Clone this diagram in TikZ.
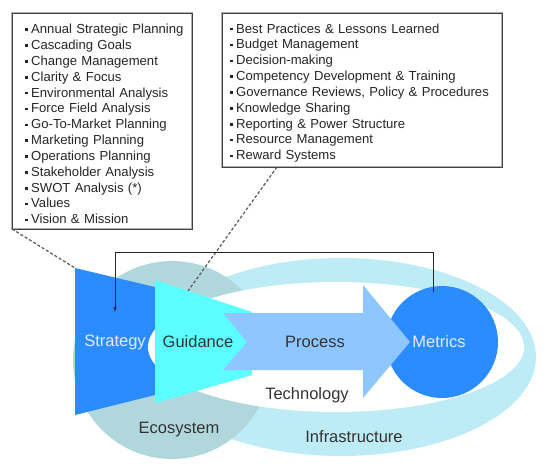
\documentclass[tikz,border=0pt]{standalone}
\usepackage{fontspec}
\setmainfont{Liberation Sans}
\usetikzlibrary{shapes,arrows,calc}
\definecolor{stratblue}{RGB}{43,140,255}
\definecolor{guidecyan}{RGB}{92,255,255}
\definecolor{procblue}{RGB}{142,198,255}
\definecolor{ecogray}{RGB}{176,216,220}
\definecolor{ringcyan}{RGB}{189,236,246}
\definecolor{labeltext}{RGB}{226,236,255}
\newcommand{\bul}{\rule[2.6bp]{2.6bp}{2.6bp}\hspace{3.6bp}}
\newcommand{\lbul}{\hspace*{6bp}\bul}
\newcommand{\topstrut}{\rule{0pt}{15.6bp}}

\begin{document}
\begin{tikzpicture}[x=1bp, y=-1bp, outer sep=0pt, >=latex',
  listbox/.style={draw=gray!60, line width=0.9bp, double=black!75, double distance=0.7bp,
    fill=white, align=left, anchor=north west,
    font=\fontsize{13.1bp}{15.85bp}\selectfont, text=black!85},
  bigtext/.style={font=\fontsize{16.5bp}{19bp}\selectfont, text=black!80},
  lighttext/.style={bigtext, text=labeltext},
  leader/.style={dashed, dash pattern=on 3bp off 2bp, black!65, line width=1.2bp}]

\useasboundingbox (0,0) rectangle (550,467);

\fill[ringcyan] (341,357) ellipse [x radius=195, y radius=99];
\fill[ecogray] (172,360) circle [radius=99];
\fill[stratblue] (75,268) coordinate (STRAT_TL) -- (157,287.5) -- (157,394.5) -- (75,415) -- cycle;
\fill[white] (336,347) ellipse [x radius=188, y radius=65];
\fill[guidecyan] (155,280) -- (252,312) -- (252,375) -- (155,403) -- cycle;
\node[circle, fill=stratblue, minimum size=112bp, inner sep=0pt, lighttext] at (442,342) (METRICS) {\hspace{-6bp}Metrics};
\fill[procblue] (223,313) -- (363,313) -- (363,285) -- (410,342) -- (363,398)
    -- (363,370) -- (223,370) -- (247,342) -- cycle;

\node[lighttext] at (115,342) (STRATEGY) {Strategy};
\node[bigtext] at (198,342) (GUIDANCE) {Guidance};
\node[bigtext] at (315,342) (PROCESS) {Process};
\node[bigtext] at (307,395) (TECH) {Technology};
\node[bigtext] at (179,430) (ECOSYSTEM) {Ecosystem};
\node[bigtext] at (354,437) (INFRA) {Infrastructure};

\node[listbox, text width=166bp, inner xsep=7bp, minimum height=216bp] at (12,13) (STRAT_LIST)
  {\topstrut\lbul Annual Strategic Planning\\ \lbul Cascading Goals\\ \lbul Change Management\\
   \lbul Clarity \& Focus\\ \lbul Environmental Analysis\\ \lbul Force Field Analysis\\
   \lbul Go-To-Market Planning\\ \lbul Marketing Planning\\ \lbul Operations Planning\\
   \lbul Stakeholder Analysis\\ \lbul SWOT Analysis (*)\\ \lbul Values\\ \lbul Vision \& Mission};
\node[listbox, text width=264bp, inner xsep=8bp, minimum height=154bp] at (222,13) (GUIDE_LIST)
  {\topstrut\bul Best Practices \& Lessons Learned\\ \bul Budget Management\\ \bul Decision-making\\
   \bul Competency Development \& Training\\ \bul Governance Reviews, Policy \& Procedures\\
   \bul Knowledge Sharing\\ \bul Reporting \& Power Structure\\ \bul Resource Management\\
   \bul Reward Systems};

\coordinate (GUIDE_TOP) at (188,291);
\draw[leader] (STRAT_LIST.south west) -- (STRAT_TL);
\draw[leader] ([xshift=55bp]GUIDE_LIST.south west) -- (GUIDE_TOP);

\coordinate (LOOP) at (0,252);
\coordinate (STRAT_HIT) at (115,312);
\draw[->, black!85, line width=0.8bp] ([xshift=-9bp, yshift=-6bp]METRICS.north)
    -- ([xshift=-9bp]METRICS.north |- LOOP) -| (STRAT_HIT);
\end{tikzpicture}
\end{document}
